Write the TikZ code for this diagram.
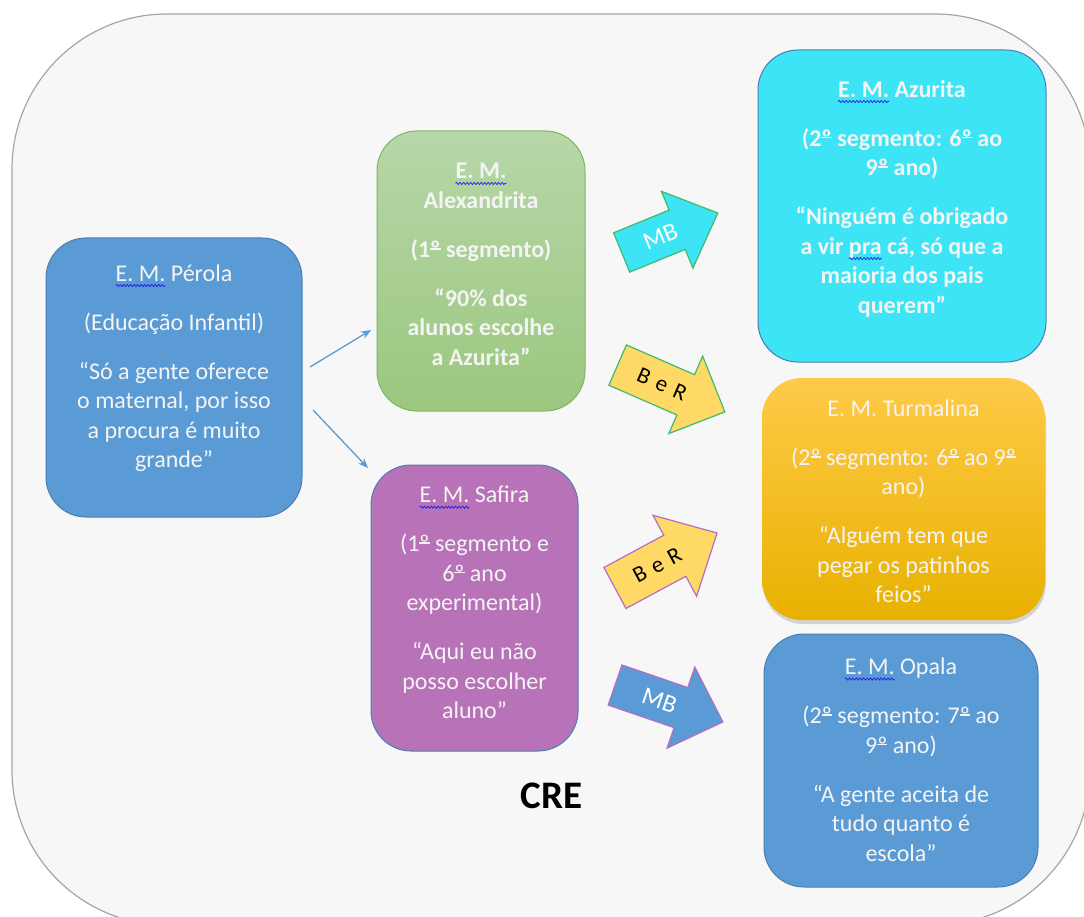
\documentclass[tikz,border=0pt]{standalone}
\usepackage{fontspec}
\setmainfont{Carlito}
\usetikzlibrary{arrows.meta,decorations.pathmorphing,shadows}
\definecolor{bgfill}{HTML}{F7F7F7}
\definecolor{bgedge}{HTML}{A6A6A6}
\definecolor{bluebox}{HTML}{5B9BD5}
\definecolor{blueedge}{HTML}{4A7EB0}
\definecolor{cyanbox}{HTML}{3DE4F5}
\definecolor{purplebox}{HTML}{B873B8}
\definecolor{greentop}{HTML}{B7D7A8}
\definecolor{greenbot}{HTML}{9BC77F}
\definecolor{greenedge}{HTML}{7DB65E}
\definecolor{goldtop}{HTML}{FFCA48}
\definecolor{goldmid}{HTML}{FFC000}
\definecolor{goldbot}{HTML}{E8B100}
\definecolor{arrgreen}{HTML}{3DBB6E}
\definecolor{arrpurple}{HTML}{B66DC2}
\definecolor{arryellow}{HTML}{FFD966}
\definecolor{textwhite}{HTML}{F4F4F4}
\definecolor{spellblue}{HTML}{2020E0}
\newcommand\spk[1]{\setbox0=\hbox{#1}\rlap{\tikz[overlay]{\draw[spellblue,line width=0.7pt,decorate,decoration={snake,amplitude=1.1pt,segment length=3.5pt}] (0pt,-4.5pt) -- (\the\wd0,-4.5pt);}}\box0\relax}
\newcommand\ordm{\leavevmode\setbox2=\hbox{º}\rlap{\copy2}\raisebox{0.33em}{\rule{\wd2}{0.055em}}}
\newcommand\blockarrow[9]{%
  \begin{scope}[shift={#2},rotate=#3]
    \path[#8] (-#4/2,-#5/2) -- (#4/2-#7,-#5/2) -- (#4/2-#7,-#6/2) -- (#4/2,0)
      -- (#4/2-#7,#6/2) -- (#4/2-#7,#5/2) -- (-#4/2,#5/2) -- cycle;
    \node[transform shape,arrlabel] (#1) at (-10,0) {#9};
  \end{scope}}
\begin{document}
\begin{tikzpicture}[x=1pt,y=-1pt,
  box/.style={rounded corners=40pt,inner sep=0pt,outer sep=0pt,line width=1pt},
  btext/.style={text=textwhite,align=center,inner sep=0pt,font=\fontsize{24}{29.5}\selectfont},
  conn/.style={bluebox,line width=1.3pt,-{Stealth[length=10pt,width=8pt]}},
  arrlabel/.style={inner sep=0pt,font=\fontsize{23}{26}\selectfont}]
\useasboundingbox (0,0) rectangle (1084,917);
\clip (0,0) rectangle (1084,917);
\fill[white] (0,0) rectangle (1084,917);
% background
\draw[fill=bgfill,draw=bgedge,line width=1.2pt,rounded corners=155pt] (12,14) rectangle (1090,925);

% boxes
\node[box,fill=bluebox,draw=blueedge,minimum width=256pt,minimum height=279pt] (perola) at (174,377.5) {};
\node[box,top color=greentop,bottom color=greenbot,draw=greenedge,minimum width=208pt,minimum height=280pt] (alex) at (481,271) {};
\node[box,fill=purplebox,draw=blueedge,minimum width=207pt,minimum height=286pt] (safira) at (474.5,608) {};
\node[box,fill=cyanbox,draw=blueedge,minimum width=288pt,minimum height=312pt] (azurita) at (902,206) {};
\node[box,top color=goldtop,middle color=goldmid,bottom color=goldbot,minimum width=283pt,minimum height=242pt,
  drop shadow={opacity=0.3,shadow xshift=1pt,shadow yshift=-4pt}] (turmalina) at (903.5,499) {};
\node[box,fill=bluebox,draw=blueedge,minimum width=274pt,minimum height=253pt] (opala) at (901,760.5) {};

% texts
\node[btext] (perolaT) at (174,368) {\spk{E. M.} Pérola\\[19.5pt](Educação Infantil)\\[19.5pt]“Só a gente oferece\\o maternal, por isso\\a procura é muito\\grande”};
\node[btext,font=\fontsize{24}{29.5}\selectfont\bfseries] (alexT) at (481,264.5) {\spk{E. M.}\\Alexandrita\\[19.5pt](1\ordm{} segmento)\\[19.5pt]“90\% dos\\alunos escolhe\\a Azurita”};
\node[btext] (safiraT) at (474.5,602.5) {\spk{E. M.} Safira\\[19.5pt](1\ordm{} segmento e\\6\ordm{} ano\\experimental)\\[19.5pt]“Aqui eu não\\posso escolher\\aluno”};
\node[btext,font=\fontsize{24}{29.5}\selectfont\bfseries] (azuT) at (902,198.5) {\spk{E. M.} Azurita\\[19.5pt](2\ordm{} segmento: 6\ordm{} ao\\9\ordm{} ano)\\[19.5pt]“Ninguém é obrigado\\a vir \spk{pra} cá, só que a\\maioria dos pais\\querem”};
\node[btext] (turmT) at (903.5,501.5) {E. M. Turmalina\\[19.5pt](2\ordm{} segmento: 6\ordm{} ao 9\ordm{}\\ano)\\[19.5pt]“Alguém tem que\\pegar os patinhos\\feios”};
\node[btext] (opalaT) at (901,759.5) {\spk{E. M.} Opala\\[19.5pt](2\ordm{} segmento: 7\ordm{} ao\\9\ordm{} ano)\\[19.5pt]“A gente aceita de\\tudo quanto é\\escola”};

% thin connectors
\coordinate (a1s) at (310,367);
\coordinate (a1e) at (371,330);
\coordinate (a2s) at (313,410);
\coordinate (a2e) at (368,468);
\draw[conn] (a1s) -- (a1e);
\draw[conn] (a2s) -- (a2e);

% block arrows
\blockarrow{mb1}{(669.75,232.75)}{22.3}{104}{42.5}{83}{44}{fill=cyanbox,draw=arrgreen,line width=1.2pt}{\textcolor{white}{\fontsize{25}{28}\selectfont MB}}
\blockarrow{ber1}{(671.25,388.5)}{-23.6}{117}{44}{84.5}{42.7}{fill=arryellow,draw=arrgreen,line width=1.2pt}{\textcolor{black}{B\,\,e\,\,R}}
\blockarrow{ber2}{(666,560.5)}{28.3}{116}{46.6}{92}{48}{fill=arryellow,draw=arrpurple,line width=1.2pt}{\textcolor{black}{B\,\,e\,\,R}}
\blockarrow{mb2}{(669,703.5)}{-18.9}{114}{42.4}{85.7}{44.4}{fill=bluebox,draw=arrpurple,line width=1.2pt}{\textcolor{white}{\fontsize{25}{28}\selectfont MB}}

% CRE label
\node[font=\fontsize{39}{44}\selectfont\bfseries,inner sep=0pt] (cre) at (551.5,796) {CRE};
\end{tikzpicture}
\end{document}
